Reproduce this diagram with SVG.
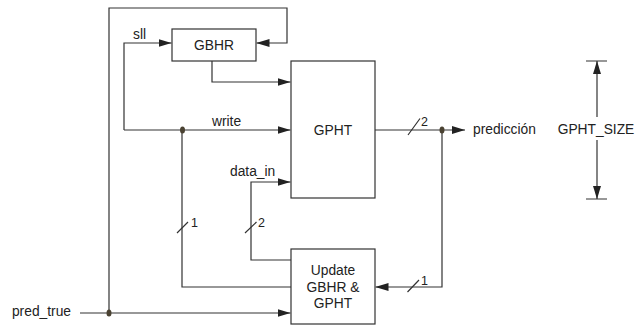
<svg xmlns="http://www.w3.org/2000/svg" width="641" height="328" viewBox="0 0 641 328">
<defs>
<marker id="ah" markerUnits="userSpaceOnUse" markerWidth="13" markerHeight="8" refX="13" refY="4" orient="auto">
<path d="M0,0 L13,4 L0,8 z" fill="#222"/>
</marker>
<style>
.ln{fill:none;stroke:#333;stroke-width:1.2}
.bx{fill:#fff;stroke:#333;stroke-width:1.2}
.t{font-family:"Liberation Sans",Arial,sans-serif;font-size:13.8px;fill:#222}
.s{font-family:"Liberation Sans",Arial,sans-serif;font-size:12.5px;fill:#222}
.dot{fill:#4a4232}
</style>
</defs>
<rect width="641" height="328" fill="#fff"/>
<g id="connectors">
<path class="ln" d="M109,313 V8 H287 V43 H256.5" marker-end="url(#ah)"/>
<path class="ln" d="M124,130 V43 H171.5" marker-end="url(#ah)"/>
<path class="ln" d="M124,130 H290.5" marker-end="url(#ah)"/>
<path class="ln" d="M212,61 V82 H290.5" marker-end="url(#ah)"/>
<path class="ln" d="M182,130 V287 H291"/>
<path class="ln" d="M291,260 H251 V182 H290.5" marker-end="url(#ah)"/>
<path class="ln" d="M80,313 H290.5" marker-end="url(#ah)"/>
<path class="ln" d="M375,130 H465" marker-end="url(#ah)"/>
<path class="ln" d="M442,130 V287 H375.5" marker-end="url(#ah)"/>
<path class="ln" d="M177,233 L188,222 M245,233 L256.5,222 M408,135 L420,118.5 M407.5,292 L419,280"/>
<path class="ln" d="M597,117 V61" marker-end="url(#ah)"/>
<path class="ln" d="M597,140 V199" marker-end="url(#ah)"/>
<path class="ln" d="M586,61 H607 M586,199 H607"/>
<ellipse class="dot" cx="182.5" cy="130" rx="2.5" ry="3.5"/>
<ellipse class="dot" cx="442" cy="130" rx="2.5" ry="3.5"/>
<ellipse class="dot" cx="109" cy="313" rx="2.5" ry="3.5"/>
<text class="t" x="133" y="39">sll</text>
<text class="t" x="212" y="126">write</text>
<text class="t" x="230" y="176">data_in</text>
<text class="s" x="191" y="227">1</text>
<text class="s" x="258" y="227">2</text>
<text class="s" x="421" y="126">2</text>
<text class="s" x="421" y="285">1</text>
<text class="t" x="473" y="134">predicción</text>
<text class="t" x="71" y="316" text-anchor="end">pred_true</text>
</g>
<g id="gbhr">
<rect class="bx" x="172" y="29" width="84" height="32"/>
<text class="t" x="214" y="49.5" text-anchor="middle">GBHR</text>
</g>
<g id="gpht">
<rect class="bx" x="291" y="61" width="84" height="137"/>
<text class="t" x="333" y="135" text-anchor="middle">GPHT</text>
</g>
<g id="update">
<rect class="bx" x="291" y="249" width="84" height="75"/>
<text class="t" x="333" y="275" text-anchor="middle">Update</text>
<text class="t" x="333" y="291.5" text-anchor="middle">GBHR &amp;</text>
<text class="t" x="333" y="308" text-anchor="middle">GPHT</text>
</g>
<g id="gpht_size">
<text class="t" x="596" y="134" text-anchor="middle">GPHT_SIZE</text>
</g>
</svg>
